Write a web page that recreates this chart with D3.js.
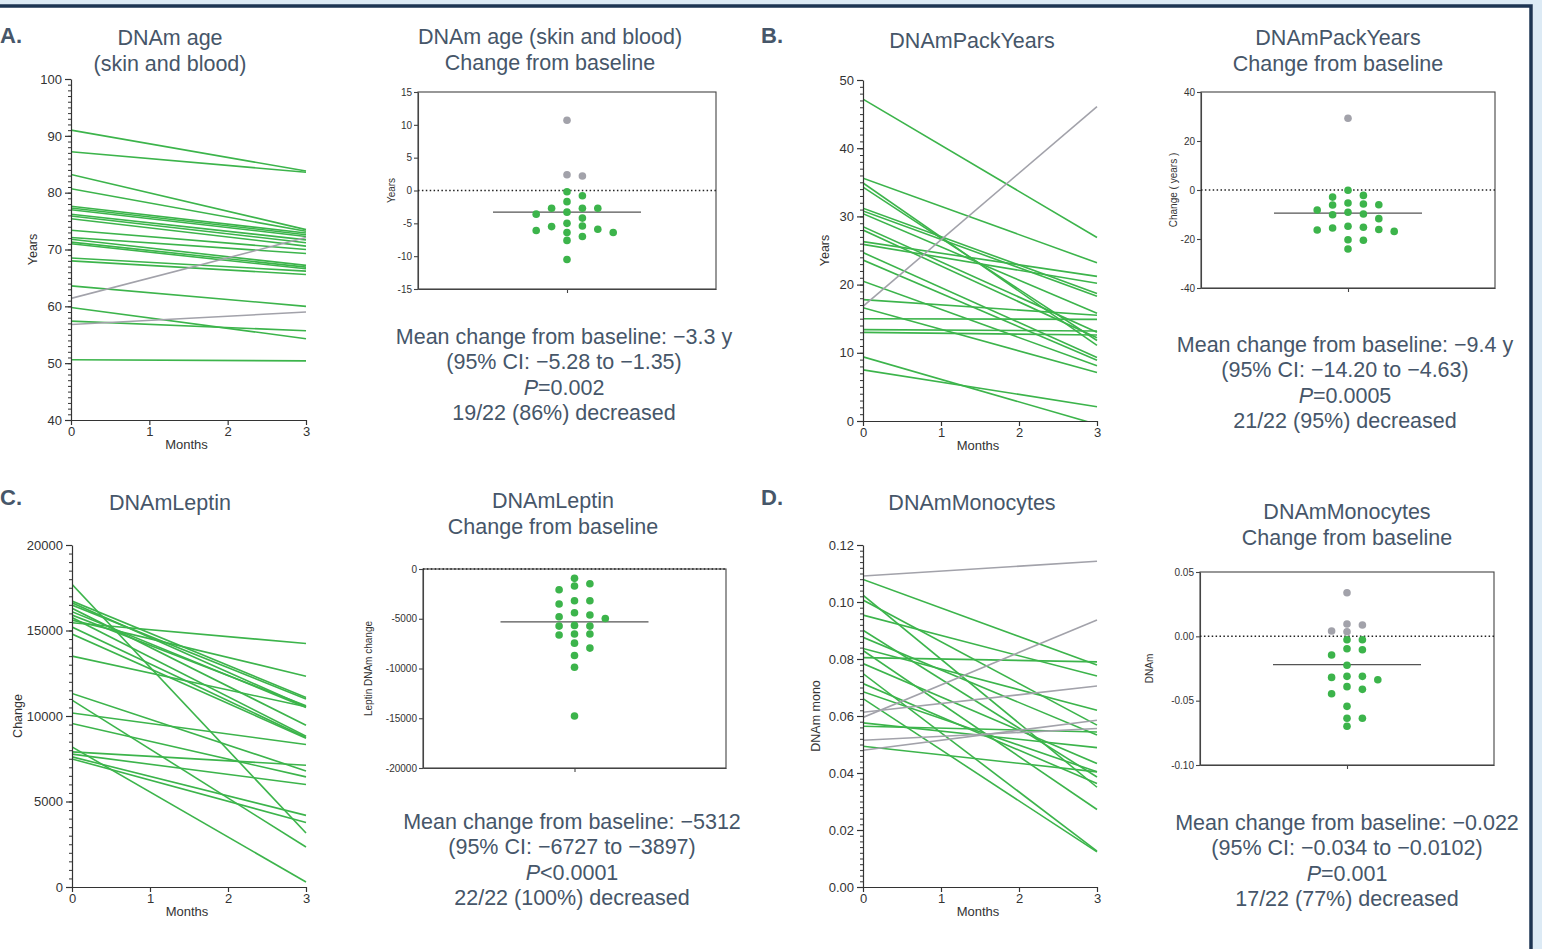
<!DOCTYPE html>
<html>
<head>
<meta charset="utf-8">
<script src="https://cdn.jsdelivr.net/npm/d3@7"></script>
<style>
  body { margin: 0; background: #fff; }
  svg { display: block; font-family: "Liberation Sans", Arial, sans-serif; }
</style>
</head>
<body>
<svg width="1542" height="949"></svg>
<script>
// values (month 0 and month 3 per participant)
const ageStart = [91.0, 87.2, 83.2, 80.7, 77.6, 77.3, 77.0, 76.2, 75.9, 75.4, 73.4, 72.1, 71.8, 71.3, 71.0, 68.5, 68.0, 63.6, 59.8, 57.4, 50.6, 61.4, 56.8];
const ageEnd   = [83.8, 83.6, 73.5, 73.2, 72.9, 72.6, 72.3, 71.7, 71.2, 70.6, 70.0, 69.3, 67.2, 66.9, 66.6, 66.2, 65.6, 60.0, 54.3, 55.7, 50.4, 72.1, 59.0];

const packStart = [47.2, 35.6, 34.9, 34.3, 31.2, 30.8, 30.4, 28.5, 28.0, 26.3, 25.9, 24.7, 23.6, 20.5, 17.8, 16.6, 15.0, 13.4, 13.0, 9.4, 7.5, 16.8];
const packEnd   = [26.9, 23.2, 11.1, 11.8, 18.7, 18.3, 15.8, 13.0, 12.2, 21.2, 20.2, 9.3, 8.9, 8.1, 15.5, 7.1, 14.9, 13.2, 12.6, -0.5, 2.1, 46.1];

const leptinStart = [17700, 16720, 16620, 16490, 16300, 16100, 15900, 15760, 15610, 15450, 15200, 14790, 13500, 11320, 10930, 10180, 9560, 8190, 7900, 7770, 7610, 7490];
const leptinEnd   = [3160, 11080, 10540, 11000, 9460, 10500, 10600, 8820, 12330, 14240, 8740, 8700, 10540, 6790, 2340, 8330, 6440, 290, 7120, 5990, 4190, 3770];

const monoStart = [0.1091, 0.0595, 0.0613, 0.0515, 0.0480, 0.1079, 0.1024, 0.1007, 0.0954, 0.0901, 0.0876, 0.0837, 0.0830, 0.0805, 0.0784, 0.0749, 0.0714, 0.0685, 0.0661, 0.0576, 0.0564, 0.0494];
const monoEnd   = [0.1143, 0.0937, 0.0705, 0.0556, 0.0585, 0.0779, 0.0350, 0.0568, 0.0740, 0.0386, 0.0533, 0.0620, 0.0272, 0.0790, 0.0433, 0.0126, 0.0363, 0.0404, 0.0123, 0.0489, 0.0544, 0.0404];

// change from baseline per participant
const ageChange = [10.7, 2.4, 2.2, -0.2, -0.8, -1.7, -2.7, -2.7, -2.7, -3.3, -3.6, -4.2, -5.0, -5.4, -5.5, -5.9, -6.1, -6.4, -6.4, -7.0, -7.6, -10.5];
const packChange = [29.3, -0.1, -2.2, -2.9, -5.3, -5.7, -6.0, -6.1, -8.2, -9.1, -9.8, -10.1, -11.7, -14.8, -15.2, -15.5, -16.1, -16.3, -16.9, -20.3, -20.5, -24.1];
const leptinChange = [-940, -1480, -1710, -2080, -3190, -3190, -3520, -4400, -4630, -4800, -4970, -5670, -5740, -5740, -6540, -6540, -6640, -7450, -7950, -8690, -9870, -14770];
const monoChange = [0.0339, 0.0096, 0.0088, 0.0041, 0.0036, -0.0026, -0.0026, -0.0096, -0.0104, -0.0145, -0.0225, -0.0311, -0.0311, -0.0319, -0.0337, -0.0391, -0.0412, -0.0446, -0.0544, -0.0637, -0.0637, -0.0699];

const meanChange = [-3.3, -9.4, -5312, -0.022];
const monthTicks = [0, 1, 2, 3];

const statsText = [
  ["Mean change from baseline: \u22123.3 y", "(95% CI: \u22125.28 to \u22121.35)", "=0.002", "19/22 (86%) decreased"],
  ["Mean change from baseline: \u22129.4 y", "(95% CI: \u221214.20 to \u22124.63)", "=0.0005", "21/22 (95%) decreased"],
  ["Mean change from baseline: \u22125312", "(95% CI: \u22126727 to \u22123897)", "<0.0001", "22/22 (100%) decreased"],
  ["Mean change from baseline: \u22120.022", "(95% CI: \u22120.034 to \u22120.0102)", "=0.001", "17/22 (77%) decreased"]
];

const GREEN = "#3cb44b", GREY = "#a2a2aa", TXT = "#465669";
const svg = d3.select("svg");

// frame
svg.append("rect").attr("x", 0).attr("y", 0).attr("width", 1542).attr("height", 5).attr("fill", "#dceaf5");
svg.append("rect").attr("x", 1533).attr("y", 0).attr("width", 9).attr("height", 949).attr("fill", "#dceaf5");
svg.append("path").attr("d", "M0,6 H1531 V949").attr("fill", "none").attr("stroke", "#1d3553").attr("stroke-width", 3.5);

const dash = s => s.replace("\u2212", "-");

function title(lines, cx, cy) {
  lines.forEach((t, i) => {
    svg.append("text").attr("x", cx).attr("y", cy + i * 26 + 7.5)
      .attr("text-anchor", "middle").attr("font-size", 21.5).attr("fill", TXT).text(t);
  });
}

function drawLines(c) {
  const x = d3.scaleLinear().domain([0, 3]).range([c.x0, c.x1]);
  const y = d3.scaleLinear().domain(c.domain).range([c.yBot, c.yTop]);
  const g = svg.append("g");
  const clipId = "clip" + c.id;
  svg.append("clipPath").attr("id", clipId).append("rect")
    .attr("x", c.x0).attr("y", c.yTop).attr("width", c.x1 - c.x0 + 2).attr("height", c.yBot - c.yTop);

  const rows = c.start.map((s, i) => ({ s, e: c.end[i], up: c.end[i] > s }));
  const line = d3.line().x(d => x(d[0])).y(d => y(d[1]));
  g.append("g").attr("clip-path", `url(#${clipId})`)
    .selectAll("path").data(rows.filter(d => !d.up).concat(rows.filter(d => d.up)))
    .join("path")
    .attr("d", d => line([[0, d.s], [3, d.e]]))
    .attr("fill", "none").attr("stroke", d => d.up ? GREY : GREEN).attr("stroke-width", 1.6);

  const minor = d3.range(c.domain[0], c.domain[1] + c.minor / 2, c.minor);
  const major = d3.range(c.domain[0], c.domain[1] + c.major / 2, c.major);
  g.append("g").attr("transform", `translate(${c.x0},0)`)
    .call(d3.axisLeft(y).tickValues(minor).tickSize(3).tickSizeOuter(0).tickFormat(""))
    .call(a => a.select(".domain").remove())
    .selectAll("line").attr("stroke", "#333");
  g.append("g").attr("transform", `translate(${c.x0},0)`)
    .call(d3.axisLeft(y).tickValues(major).tickSize(6).tickSizeOuter(0).tickPadding(3)
      .tickFormat(d => dash(d3.format(c.fmt)(d))))
    .call(a => a.selectAll("text").attr("font-size", 13).attr("fill", "#333").attr("font-family", "Liberation Sans, Arial"))
    .call(a => a.selectAll("line,path").attr("stroke", "#333").attr("stroke-width", 1.2));
  g.append("g").attr("transform", `translate(0,${c.yBot})`)
    .call(d3.axisBottom(x).tickValues(monthTicks).tickSize(5).tickSizeOuter(0).tickPadding(2).tickFormat(d3.format("d")))
    .call(a => a.selectAll("text").attr("font-size", 13).attr("fill", "#333").attr("font-family", "Liberation Sans, Arial"))
    .call(a => a.selectAll("line,path").attr("stroke", "#333").attr("stroke-width", 1.2));

  g.append("text").attr("x", (c.x0 + c.x1) / 2 - 2).attr("y", c.yBot + 29)
    .attr("text-anchor", "middle").attr("font-size", 13).attr("fill", "#333").text("Months");
  g.append("text").attr("transform", `translate(${c.ylx},${(c.yTop + c.yBot) / 2}) rotate(-90)`)
    .attr("dy", "0.35em").attr("text-anchor", "middle").attr("font-size", 12.5).attr("fill", "#333").text(c.ylab);
}

// beeswarm on a half-step grid: points closer than rowH vertically must be a full step apart
function swarm(vals, y, step, rowH) {
  const pts = vals.map(v => ({ v, y: y(v), x: 0 }));
  const order = pts.slice().sort((a, b) => a.y - b.y);
  const placed = [];
  const half = step / 2;
  for (const p of order) {
    for (let k = 0; k < 40; k++) {
      const cx = k === 0 ? 0 : (k % 2 ? 1 : -1) * Math.ceil(k / 2) * half;
      const ok = placed.every(q => Math.abs(q.y - p.y) >= rowH || Math.abs(q.x - cx) >= step - 0.01);
      if (ok) { p.x = cx; break; }
    }
    placed.push(p);
  }
  return pts;
}

function drawScatter(c) {
  const y = d3.scaleLinear().domain(c.domain).range([c.y1, c.y0]);
  const x = d3.scalePoint().domain(["change"]).range([c.x0, c.x1]).padding(0.5);
  const g = svg.append("g");
  g.append("rect").attr("x", c.x0).attr("y", c.y0).attr("width", c.x1 - c.x0).attr("height", c.y1 - c.y0)
    .attr("fill", "none").attr("stroke", "#444").attr("stroke-width", 1.1);
  const ticks = d3.range(c.domain[0], c.domain[1] + c.step / 2, c.step);
  g.append("g").attr("transform", `translate(${c.x0},0)`)
    .call(d3.axisLeft(y).tickValues(ticks).tickSize(4).tickSizeOuter(0).tickPadding(2)
      .tickFormat(d => dash(d3.format(c.fmt)(Math.abs(d) < 1e-9 ? 0 : d))))
    .call(a => a.selectAll("text").attr("font-size", 10).attr("fill", "#333").attr("font-family", "Liberation Sans, Arial"))
    .call(a => a.selectAll("line,path").attr("stroke", "#444").attr("stroke-width", 1.1));
  g.append("g").attr("transform", `translate(0,${c.y1})`)
    .call(d3.axisBottom(x).tickSize(4).tickSizeOuter(0).tickFormat(""))
    .call(a => a.selectAll("line,path").attr("stroke", "#444").attr("stroke-width", 1.1));

  g.append("line").attr("x1", c.x0).attr("x2", c.x1).attr("y1", y(0)).attr("y2", y(0))
    .attr("stroke", "#222").attr("stroke-width", 1.5).attr("stroke-dasharray", "1.5,2.4");

  const cx = x("change");
  g.append("line").attr("x1", cx - 74).attr("x2", cx + 74).attr("y1", y(c.mean)).attr("y2", y(c.mean))
    .attr("stroke", "#555").attr("stroke-width", 1.2);

  g.selectAll("circle").data(swarm(c.values, y, 15.4, 7.6)).join("circle")
    .attr("cx", d => cx + d.x).attr("cy", d => d.y).attr("r", 3.8)
    .attr("fill", d => d.v > 0 ? GREY : GREEN);

  g.append("text").attr("transform", `translate(${c.ylx},${(c.y0 + c.y1) / 2}) rotate(-90)`)
    .attr("dy", "0.35em").attr("text-anchor", "middle").attr("font-size", 10).attr("fill", "#333").text(c.ylab);

  c.stats.forEach((t, i) => {
    const tx = g.append("text").attr("x", c.sx).attr("y", c.sy + i * 25.5 + 7.5)
      .attr("text-anchor", "middle").attr("font-size", 21.5).attr("fill", TXT);
    if (i === 2) {
      tx.append("tspan").attr("font-style", "italic").text("P");
      tx.append("tspan").text(t);
    } else tx.text(t);
  });
}

// panel letters
[["A.", 0, 43], ["B.", 761, 43], ["C.", 0, 505], ["D.", 761, 505]].forEach(([t, lx, ly]) => {
  svg.append("text").attr("x", lx).attr("y", ly).attr("font-size", 22).attr("font-weight", "bold").attr("fill", TXT).text(t);
});

title(["DNAm age", "(skin and blood)"], 170, 37);
title(["DNAm age (skin and blood)", "Change from baseline"], 550, 36);
title(["DNAmPackYears"], 972, 40);
title(["DNAmPackYears", "Change from baseline"], 1338, 37);
title(["DNAmLeptin"], 170, 502);
title(["DNAmLeptin", "Change from baseline"], 553, 500);
title(["DNAmMonocytes"], 972, 502);
title(["DNAmMonocytes", "Change from baseline"], 1347, 511);

drawLines({ id: "A", start: ageStart, end: ageEnd, x0: 71, x1: 306, yTop: 79, yBot: 420, domain: [40, 100], major: 10, minor: 1, fmt: "d", ylab: "Years", ylx: 33 });
drawLines({ id: "B", start: packStart, end: packEnd, x0: 863, x1: 1097, yTop: 80, yBot: 421, domain: [0, 50], major: 10, minor: 1, fmt: "d", ylab: "Years", ylx: 825 });
drawLines({ id: "C", start: leptinStart, end: leptinEnd, x0: 72, x1: 306, yTop: 545, yBot: 887, domain: [0, 20000], major: 5000, minor: 500, fmt: "d", ylab: "Change", ylx: 18 });
drawLines({ id: "D", start: monoStart, end: monoEnd, x0: 863, x1: 1097, yTop: 545, yBot: 887, domain: [0, 0.12], major: 0.02, minor: 0.002, fmt: ".2f", ylab: "DNAm mono", ylx: 816 });

drawScatter({ values: ageChange, mean: meanChange[0], x0: 418, x1: 716, y0: 92, y1: 289, domain: [-15, 15], step: 5, fmt: "d", ylab: "Years", ylx: 391, stats: statsText[0], sx: 564, sy: 336 });
drawScatter({ values: packChange, mean: meanChange[1], x0: 1201, x1: 1495, y0: 92, y1: 288, domain: [-40, 40], step: 20, fmt: "d", ylab: "Change ( years )", ylx: 1173, stats: statsText[1], sx: 1345, sy: 344 });
drawScatter({ values: leptinChange, mean: meanChange[2], x0: 423, x1: 726, y0: 569, y1: 768, domain: [-20000, 0], step: 5000, fmt: "d", ylab: "Leptin DNAm change", ylx: 368, stats: statsText[2], sx: 572, sy: 821 });
drawScatter({ values: monoChange, mean: meanChange[3], x0: 1200, x1: 1494, y0: 572, y1: 765, domain: [-0.10, 0.05], step: 0.05, fmt: ".2f", ylab: "DNAm", ylx: 1149, stats: statsText[3], sx: 1347, sy: 822 });
</script>
</body>
</html>
